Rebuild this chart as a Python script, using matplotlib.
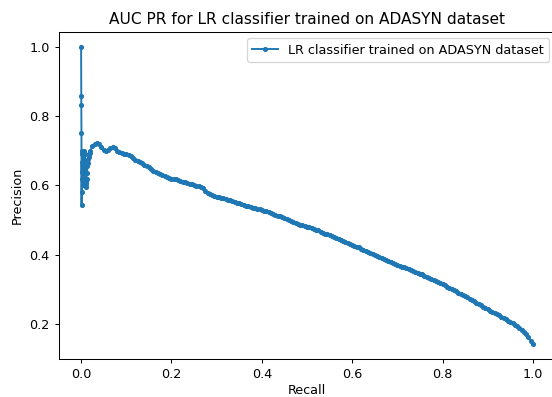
import matplotlib
matplotlib.use("Agg")
import matplotlib.pyplot as plt

# --- Settings ---
DPI = 92
FIG_W, FIG_H = 552, 397
LABEL = "LR classifier trained on ADASYN dataset"

# recall / precision (low-recall cluster first)
recall = [
    0.0, 0.0003, 0.0005, 0.0008, 0.001, 0.0012, 0.0015, 0.0018, 0.002,
    0.0025, 0.003, 0.0035, 0.004, 0.0045, 0.005, 0.0055, 0.006, 0.0065,
    0.007, 0.0075, 0.008, 0.0085, 0.009, 0.0095, 0.010, 0.0105, 0.011,
    0.0115, 0.012, 0.013, 0.014, 0.015, 0.016, 0.017, 0.018, 0.019,
    0.020, 0.025, 0.030, 0.035, 0.040, 0.045, 0.050, 0.055, 0.060, 0.065,
    0.070, 0.075, 0.080, 0.085, 0.090, 0.095, 0.100, 0.105, 0.110, 0.115,
    0.120, 0.125, 0.130, 0.135, 0.140, 0.145, 0.150, 0.155, 0.160, 0.165,
    0.170, 0.175, 0.180, 0.185, 0.190, 0.195, 0.200, 0.205, 0.210, 0.215,
    0.220, 0.225, 0.230, 0.235, 0.240, 0.245, 0.250, 0.255, 0.260, 0.265,
    0.270, 0.275, 0.280, 0.285, 0.290, 0.295, 0.300, 0.305, 0.310, 0.315,
    0.320, 0.325, 0.330, 0.335, 0.340, 0.345, 0.350, 0.355, 0.360, 0.365,
    0.370, 0.375, 0.380, 0.385, 0.390, 0.395, 0.400, 0.405, 0.410, 0.415,
    0.420, 0.425, 0.430, 0.435, 0.440, 0.445, 0.450, 0.455, 0.460, 0.465,
    0.470, 0.475, 0.480, 0.485, 0.490, 0.495, 0.500, 0.505, 0.510, 0.515,
    0.520, 0.525, 0.530, 0.535, 0.540, 0.545, 0.550, 0.555, 0.560, 0.565,
    0.570, 0.575, 0.580, 0.585, 0.590, 0.595, 0.600, 0.605, 0.610, 0.615,
    0.620, 0.625, 0.630, 0.635, 0.640, 0.645, 0.650, 0.655, 0.660, 0.665,
    0.670, 0.675, 0.680, 0.685, 0.690, 0.695, 0.700, 0.705, 0.710, 0.715,
    0.720, 0.725, 0.730, 0.735, 0.740, 0.745, 0.750, 0.755, 0.760, 0.765,
    0.770, 0.775, 0.780, 0.785, 0.790, 0.795, 0.800, 0.805, 0.810, 0.815,
    0.820, 0.825, 0.830, 0.835, 0.840, 0.845, 0.850, 0.855, 0.860, 0.865,
    0.870, 0.875, 0.880, 0.885, 0.890, 0.895, 0.900, 0.905, 0.910, 0.915,
    0.920, 0.925, 0.930, 0.935, 0.940, 0.945, 0.950, 0.955, 0.960, 0.965,
    0.970, 0.975, 0.980, 0.985, 0.990, 0.995, 1.000,
]
precision = [
    1.0, 0.857, 0.833, 0.75, 0.545, 0.58, 0.667, 0.64, 0.70,
    0.62, 0.69, 0.60, 0.68, 0.64, 0.61, 0.66, 0.70, 0.65,
    0.63, 0.67, 0.69, 0.62, 0.60, 0.64, 0.66, 0.61, 0.595,
    0.605, 0.62, 0.635, 0.655, 0.665, 0.675, 0.683, 0.69, 0.695,
    0.700, 0.713, 0.720, 0.723, 0.720, 0.712, 0.703, 0.700, 0.702, 0.708,
    0.710, 0.707, 0.700, 0.697, 0.694, 0.692, 0.690, 0.687, 0.684, 0.678,
    0.673, 0.670, 0.667, 0.664, 0.660, 0.656, 0.652, 0.647, 0.643, 0.640,
    0.636, 0.633, 0.630, 0.627, 0.625, 0.622, 0.620, 0.619, 0.618, 0.616,
    0.614, 0.611, 0.609, 0.607, 0.605, 0.603, 0.601, 0.599, 0.597, 0.596,
    0.594, 0.585, 0.578, 0.575, 0.572, 0.570, 0.568, 0.566, 0.565, 0.563,
    0.561, 0.559, 0.557, 0.555, 0.553, 0.550, 0.548, 0.546, 0.544, 0.542,
    0.540, 0.538, 0.536, 0.534, 0.532, 0.531, 0.529, 0.527, 0.525, 0.523,
    0.521, 0.519, 0.516, 0.513, 0.511, 0.508, 0.506, 0.503, 0.500, 0.498,
    0.495, 0.492, 0.490, 0.487, 0.485, 0.483, 0.481, 0.479, 0.477, 0.474,
    0.472, 0.470, 0.467, 0.464, 0.461, 0.459, 0.456, 0.453, 0.450, 0.448,
    0.445, 0.442, 0.439, 0.437, 0.434, 0.431, 0.428, 0.426, 0.423, 0.421,
    0.418, 0.415, 0.412, 0.409, 0.406, 0.403, 0.400, 0.397, 0.394, 0.390,
    0.387, 0.384, 0.381, 0.379, 0.376, 0.373, 0.370, 0.368, 0.366, 0.364,
    0.361, 0.359, 0.356, 0.353, 0.350, 0.348, 0.345, 0.343, 0.340, 0.337,
    0.334, 0.331, 0.328, 0.325, 0.322, 0.318, 0.315, 0.312, 0.308, 0.305,
    0.301, 0.298, 0.294, 0.291, 0.287, 0.284, 0.280, 0.277, 0.273, 0.270,
    0.266, 0.262, 0.258, 0.254, 0.250, 0.246, 0.242, 0.239, 0.235, 0.232,
    0.228, 0.225, 0.221, 0.218, 0.214, 0.210, 0.206, 0.202, 0.198, 0.194,
    0.189, 0.184, 0.178, 0.171, 0.163, 0.152, 0.142,
]

fig = plt.figure(figsize=(FIG_W / DPI, FIG_H / DPI), dpi=DPI)
ax = fig.add_axes([58.5 / FIG_W, 38 / FIG_H, 497 / FIG_W, 327 / FIG_H])
ax.plot(recall, precision, marker=".", label=LABEL)
ax.set_title("AUC PR for LR classifier trained on ADASYN dataset")
ax.set_xlabel("Recall", labelpad=2.5)
ax.set_ylabel("Precision")
ax.legend(loc="upper right")
fig.savefig("out.png", dpi=DPI)
